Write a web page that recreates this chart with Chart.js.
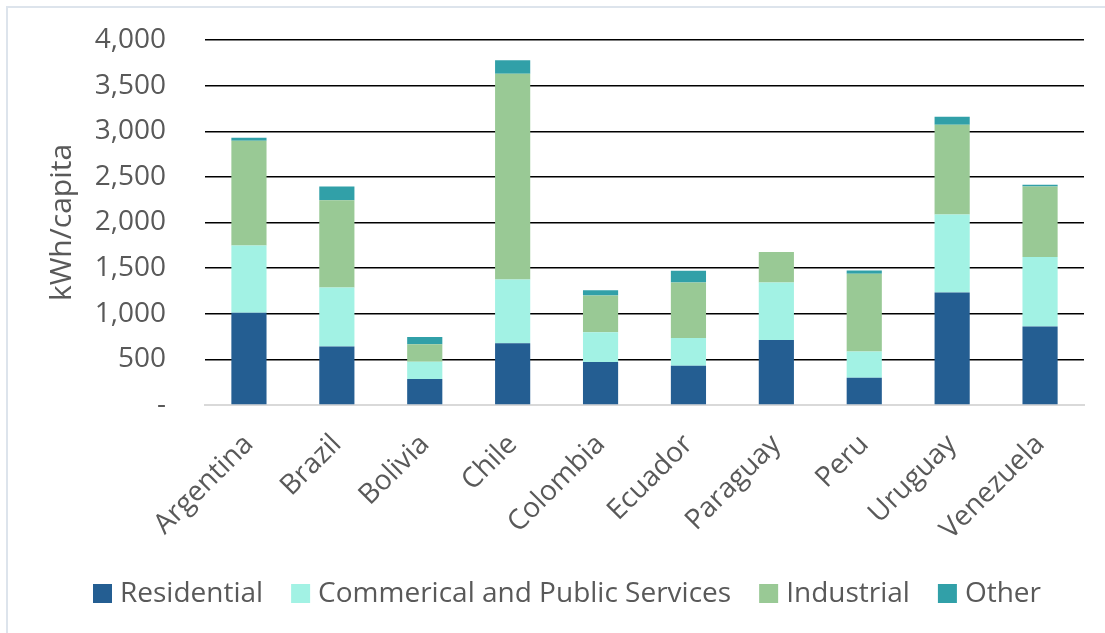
<!DOCTYPE html>
<html>
<head>
<meta charset="utf-8">
<script src="https://cdn.jsdelivr.net/npm/chart.js@4.4.1/dist/chart.umd.min.js"></script>
<style>
  html, body { margin: 0; padding: 0; background: #ffffff; }
  #wrap { position: relative; width: 1105px; height: 633px; }
  canvas { display: block; }
</style>
</head>
<body>
<div id="wrap"><canvas id="chart" width="1105" height="633"></canvas></div>
<script>
// Electricity consumption per capita by sector (kWh/capita)
const countries = ['Argentina', 'Brazil', 'Bolivia', 'Chile', 'Colombia', 'Ecuador', 'Paraguay', 'Peru', 'Uruguay', 'Venezuela'];
const residential = [1010, 640, 285, 676, 472, 431, 713, 300, 1232, 859];
const commercial  = [738, 647, 190, 699, 325, 304, 629, 285, 856, 764];
const industrial  = [1148, 958, 190, 2255, 402, 607, 336, 852, 983, 772];
const other       = [32, 150, 81, 147, 59, 128, 0, 36, 88, 18];
const seriesNames = ['Residential', 'Commerical and Public Services', 'Industrial', 'Other'];
const seriesColors = ['#245E92', '#A2F2E4', '#99C995', '#31A0A8'];
const yTicks = [0, 500, 1000, 1500, 2000, 2500, 3000, 3500, 4000];

const FONT = "'Open Sans', 'Noto Sans', sans-serif";
const TEXT = '#595959';

// Frame lines along the top and left edges
const framePlugin = {
  id: 'frame',
  beforeDraw(chart) {
    const ctx = chart.ctx;
    ctx.save();
    ctx.strokeStyle = '#dde4ec';
    ctx.lineWidth = 2;
    ctx.beginPath();
    ctx.moveTo(7, 633);
    ctx.lineTo(7, 7);
    ctx.lineTo(1105, 7);
    ctx.stroke();
    ctx.restore();
  }
};

// Single-row legend with narrow gaps between swatch and label
const legendRow = {
  id: 'legendRow',
  afterDraw(chart) {
    const ctx = chart.ctx;
    ctx.save();
    ctx.font = '28px ' + FONT;
    ctx.textBaseline = 'middle';
    ctx.textAlign = 'left';
    let x = 93;
    const yMid = 593.5;
    chart.data.datasets.forEach((ds) => {
      ctx.fillStyle = ds.backgroundColor;
      ctx.fillRect(x, yMid - 9.5, 19, 19);
      x += 19 + 8;
      ctx.fillStyle = TEXT;
      ctx.fillText(ds.label, x, yMid + 1);
      x += ctx.measureText(ds.label).width + 28;
    });
    ctx.restore();
  }
};

const valueSets = [residential, commercial, industrial, other];

new Chart(document.getElementById('chart'), {
  type: 'bar',
  data: {
    labels: countries,
    datasets: seriesNames.map((name, i) => ({
      label: name,
      data: valueSets[i],
      backgroundColor: seriesColors[i],
      borderWidth: 0,
      categoryPercentage: 0.4,
      barPercentage: 1.0
    }))
  },
  options: {
    responsive: false,
    animation: false,
    devicePixelRatio: 1,
    layout: { padding: { left: 8, right: 21, top: 40, bottom: 0 } },
    plugins: {
      legend: { display: false },
      tooltip: { enabled: false }
    },
    scales: {
      x: {
        stacked: true,
        grid: { display: false, drawTicks: false },
        border: { display: true, color: '#d9d9d9', width: 2 },
        ticks: {
          color: TEXT,
          font: { family: FONT, size: 28 },
          minRotation: 45,
          maxRotation: 45,
          autoSkip: false,
          padding: 23
        },
        afterFit(scale) { scale.height = 633 - 405; }
      },
      y: {
        stacked: true,
        min: 0,
        max: 4000,
        afterBuildTicks(scale) { scale.ticks = yTicks.map(v => ({ value: v })); },
        grid: {
          drawTicks: true,
          tickLength: 39,
          tickColor: 'rgba(0,0,0,0)',
          color: (c) => (c.tick && c.tick.value === 0) ? '#d9d9d9' : '#000000',
          lineWidth: 1.5
        },
        border: { display: false },
        ticks: {
          color: TEXT,
          font: { family: FONT, size: 28 },
          padding: 0,
          callback: (v) => v === 0 ? '-' : v.toLocaleString('en-US')
        },
        title: {
          display: true,
          text: 'kWh/capita',
          color: TEXT,
          font: { family: FONT, size: 30 },
          padding: { top: 36, bottom: 0 }
        },
        afterFit(scale) { scale.width = 205 - 8; }
      }
    }
  },
  plugins: [framePlugin, legendRow]
});
</script>
</body>
</html>
